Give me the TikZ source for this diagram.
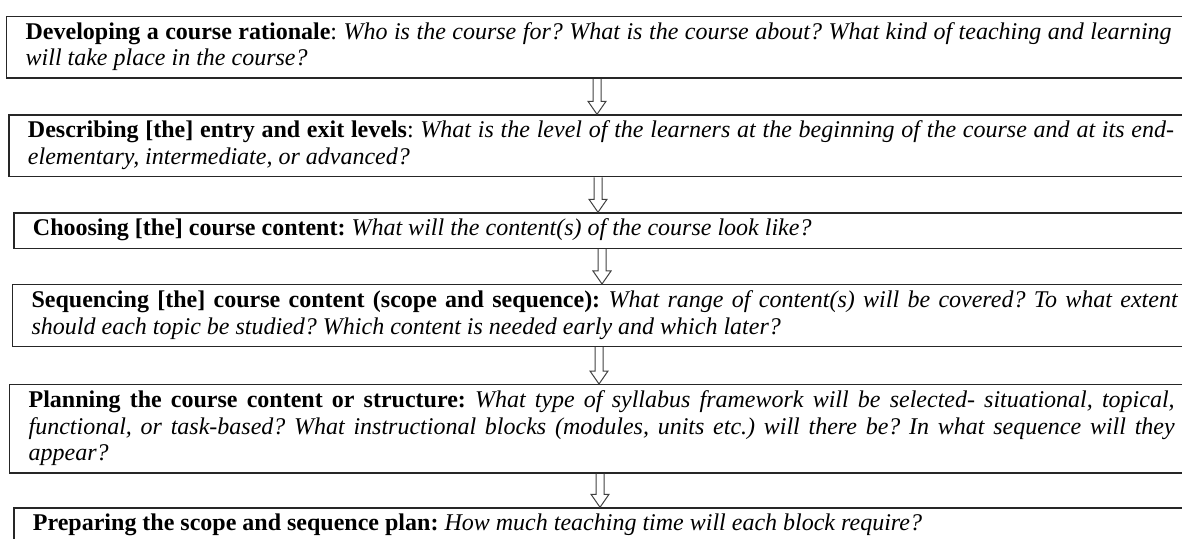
\documentclass[tikz,border=0pt]{standalone}
\usepackage{fontspec}
\setmainfont{Liberation Serif}
\usetikzlibrary{calc}
\hyphenpenalty=10000
\frenchspacing

\begin{document}
\begin{tikzpicture}[x=0.5pt,y=-0.5pt,
   every node/.style={font=\fontsize{12}{13.25}\selectfont,align=justify},
   box/.style={draw=black!85,line width=0.65pt,anchor=north west,text width=573pt,
     inner xsep=9.5pt,inner ysep=2.2pt,
     execute at begin node=\strut,execute at end node=\strut},
   hollow/.style={draw=black!75,line width=0.5pt,line join=miter}]
  \useasboundingbox (0,0) rectangle (1182,539);
  \clip (0,0) rectangle (1182,539);
  \node[box] (rationale) at (6,15.7) {\textbf{Developing a course rationale}: \textit{Who is the course for? What is the course about? What kind of teaching and learning will take place in the course?}};
  \node[box] (levels) at (8.3,114.3) {\textbf{Describing [the] entry and exit levels}: \textit{What is the level of the learners at the beginning of the course and at its end-elementary, intermediate, or advanced?}};
  \node[box] (content) at (13.3,212.3) {\textbf{Choosing [the] course content:} \textit{What will the content(s) of the course look like?}};
  \node[box] (sequencing) at (12,284) {\textbf{Sequencing [the] course content (scope and sequence):} \textit{What range of content(s) will be covered? To what extent should each topic be studied? Which content is needed early and which later?}};
  \node[box] (planning) at (9,384) {\textbf{Planning the course content or structure:} \textit{What type of syllabus framework will be selected- situational, topical, functional, or task-based? What instructional blocks (modules, units etc.) will there be? In what sequence will they appear?}};
  \node[box] (plan) at (13.3,507.3) {\textbf{Preparing the scope and sequence plan:} \textit{How much teaching time will each block require?}};
  \foreach \a/\b/\ax in {rationale/levels/597,levels/content/598,content/sequencing/602,sequencing/planning/599,planning/plan/600}
   {\draw[hollow] let \p1=(\a.south), \p2=(\b.north), \p3=(\ax,0) in
     (\x3-2pt,\y1) -- (\x3-2pt,\y2+6.5pt) -- (\x3-4.5pt,\y2+6.5pt) -- (\x3,\y2)
     -- (\x3+4.5pt,\y2+6.5pt) -- (\x3+2pt,\y2+6.5pt) -- (\x3+2pt,\y1);}
\end{tikzpicture}
\end{document}
